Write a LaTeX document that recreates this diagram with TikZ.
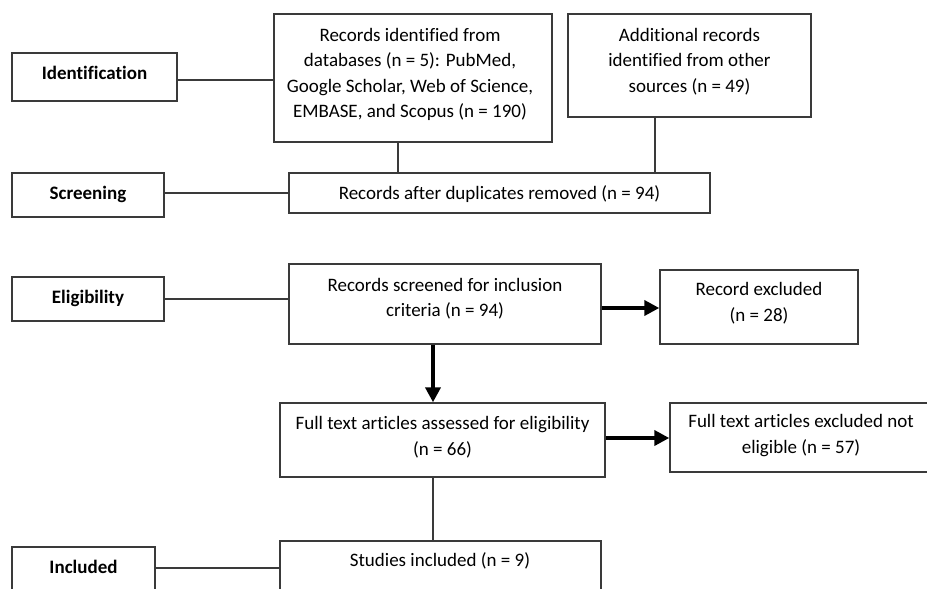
\documentclass[tikz,border=0pt]{standalone}
\usepackage{fontspec}
\setmainfont[Ligatures=NoCommon]{Carlito}
\usetikzlibrary{fit,arrows.meta}
\definecolor{edge}{HTML}{3A3A3A}
\tikzset{
  box/.style={draw=edge, line width=1.4pt, inner sep=0pt, fill=none},
  txt/.style={font=\fontsize{19}{25.5}\selectfont, align=center, inner sep=0pt, text=black},
  lbl/.style={font=\fontsize{19}{25.5}\selectfont\bfseries, align=center, inner sep=0pt, text=black},
  thin/.style={draw=edge, line width=1.1pt},
  thick/.style={draw=black, line width=4pt, -{Triangle[length=15pt,width=15pt]}},
}
\begin{document}
\begin{tikzpicture}[x=1pt,y=-1pt]
\useasboundingbox (0,0) rectangle (927,589);
\clip (0,0) rectangle (927,589);
% boxes
\node[box, fit={(12,53) (177,101)}] (ident) {};
\node[box, fit={(274,14) (552,142)}] (recid) {};
\node[box, fit={(568,14) (811,117)}] (add) {};
\node[box, fit={(12,173) (164,217)}] (screen) {};
\node[box, fit={(289,173) (710,213)}] (dup) {};
\node[box, fit={(12,277) (164,321)}] (elig) {};
\node[box, fit={(289,264) (601,344)}] (rscr) {};
\node[box, fit={(660,270) (858,344)}] (rexc) {};
\node[box, fit={(280,403) (605,477)}] (ft) {};
\node[box, fit={(670,403) (935,472)}] (ftexc) {};
\node[box, fit={(12,547) (155,610)}] (incl) {};
\node[box, fit={(280,541) (601,610)}] (stud) {};
% texts
\node[lbl] (identT) at (94.5,73) {Identification};
\node[txt] (recidT) at (410,74.5) {Records identified from\\databases (n = 5): PubMed,\\Google Scholar, Web of Science,\\EMBASE, and Scopus (n = 190)};
\node[txt] (addT) at (689.5,61.5) {Additional records\\identified from other\\sources (n = 49)};
\node[lbl] (screenT) at (88,194) {Screening};
\node[txt] (dupT) at (499.5,194) {Records after duplicates removed (n = 94)};
\node[lbl] (eligT) at (88,298) {Eligibility};
\node[txt] (rscrT) at (445,298.5) {Records screened for inclusion\\criteria (n = 94)};
\node[txt] (rexcT) at (759,303) {Record excluded\\(n = 28)};
\node[txt] (ftT) at (442.5,437) {Full text articles assessed for eligibility\\(n = 66)};
\node[txt] (ftexcT) at (801,435.5) {Full text articles excluded not\\eligible (n = 57)};
\node[lbl] (inclT) at (83.5,567) {Included};
\node[txt] (studT) at (440,561) {Studies included (n = 9)};
% helper coordinates
\coordinate (c1) at (398,0);
\coordinate (c2) at (655,0);
\coordinate (c3) at (433,0);
\coordinate (c4) at (0,568);
\coordinate (c5) at (0,80);
\coordinate (c6) at (0,193);
\coordinate (c7) at (0,299);
\coordinate (c8) at (0,308);
\coordinate (c9) at (0,438);
% connectors
\draw[thin] (ident.east |- c5) -- (recid.west |- c5);
\draw[thin] (recid.south -| c1) -- (dup.north -| c1);
\draw[thin] (add.south -| c2) -- (dup.north -| c2);
\draw[thin] (screen.east |- c6) -- (dup.west |- c6);
\draw[thin] (elig.east |- c7) -- (rscr.west |- c7);
\draw[thick] (rscr.east |- c8) -- (rexc.west |- c8);
\draw[thick] (rscr.south -| c3) -- (ft.north -| c3);
\draw[thick] (ft.east |- c9) -- (ftexc.west |- c9);
\draw[thin] (ft.south -| c3) -- (stud.north -| c3);
\draw[thin] (incl.east |- c4) -- (stud.west |- c4);
\end{tikzpicture}
\end{document}
